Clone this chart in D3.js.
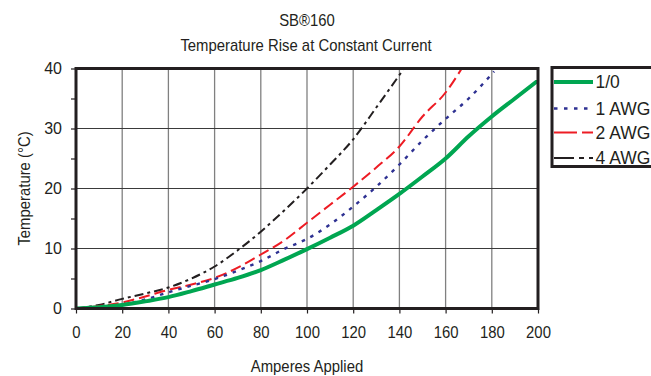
<!DOCTYPE html>
<html>
<head>
<meta charset="utf-8">
<script src="https://cdn.jsdelivr.net/npm/d3@7/dist/d3.min.js"></script>
<style>
  html, body { margin: 0; padding: 0; background: #fff; }
  svg { display: block; font-family: "Liberation Sans", Arial, sans-serif; }
</style>
</head>
<body>
<svg id="chart" width="651" height="376"></svg>
<script>
// ---- data ----
const titleLines = ["SB\u00AE160", "Temperature Rise at Constant Current"];
const xLabel = "Amperes Applied";
const yLabel = "Temperature (\u00B0C)";
const xTicks = [0, 20, 40, 60, 80, 100, 120, 140, 160, 180, 200];
const yTicks = [0, 10, 20, 30, 40];
const yMinorTicks = [5, 15, 25, 35];
const seriesNames = ["1/0", "1 AWG", "2 AWG", "4 AWG"];

const ampsG = [0,10,20,30,40,50,60,70,80,90,100,110,120,130,140,150,160,170,180,190,200];
const tempG = [0,0.2,0.6,1.2,1.9,2.9,4.0,5.1,6.4,8.1,9.9,11.8,13.8,16.4,19.1,22.0,25.0,28.7,32.0,35.0,38.0];

const ampsB = [0,10,20,30,40,50,60,70,80,90,100,110,120,130,140,150,160,170,181];
const tempB = [0,0.2,0.6,1.5,2.7,3.8,4.9,6.3,7.9,9.9,11.6,14.0,17.0,20.3,24.0,28.0,31.6,35.0,39.5];

const ampsR = [0,10,20,30,40,50,60,70,80,90,100,110,120,130,140,150,160,167];
const tempR = [0,0.4,1.0,2.0,3.1,4.0,5.1,6.8,9.0,11.3,14.3,17.3,20.3,23.5,27.0,32.0,36.0,40.0];

const ampsK = [0,10,20,30,40,50,60,70,80,90,100,110,120,130,142];
const tempK = [0,0.6,1.6,2.5,3.5,5.0,7.0,9.7,12.8,16.3,20.0,24.0,28.2,33.5,40.0];

// ---- styles ----
const styles = [
  { color: "#00a651", width: 4, dash: null, legendDash: null },
  { color: "#2e3192", width: 2.4, dash: "3.5,6", legendDash: "3.5,6.5" },
  { color: "#ed1c24", width: 2, dash: "11,5", legendDash: "23,5" },
  { color: "#231f20", width: 2, dash: "9,4,3,4", legendDash: "20,5,5,5,5,5" }
];
const ink = "#231f20";
const fs = 16, sx = 0.93;

const series = [
  { name: seriesNames[0], xs: ampsG, ys: tempG },
  { name: seriesNames[1], xs: ampsB, ys: tempB },
  { name: seriesNames[2], xs: ampsR, ys: tempR },
  { name: seriesNames[3], xs: ampsK, ys: tempK }
];

const svg = d3.select("#chart");
const pL = 76, pR = 538, pT = 68.5, pB = 308.5;

const x = d3.scaleLinear().domain([0, 200]).range([pL, pR]);
const y = d3.scaleLinear().domain([0, 40]).range([pB, pT]);

function label(tx, ty, txt, rot) {
  const g = svg.append("g").attr("transform", `translate(${tx},${ty})` + (rot ? ` rotate(${rot})` : ""));
  g.append("text").attr("transform", `scale(${sx},1)`).attr("text-anchor", "middle")
    .attr("font-size", fs).attr("fill", ink).text(txt);
}

// titles
label(307, 25.5, titleLines[0]);
label(306, 50.5, titleLines[1]);

// grid
const grid = svg.append("g");
grid.selectAll("line.v").data(xTicks.slice(1, -1)).enter().append("line")
  .attr("x1", d => x(d)).attr("x2", d => x(d)).attr("y1", pT).attr("y2", pB)
  .attr("stroke", "#808080").attr("stroke-width", 1.3);
grid.selectAll("line.h").data(yTicks.slice(1, -1)).enter().append("line")
  .attr("x1", pL).attr("x2", pR).attr("y1", d => y(d)).attr("y2", d => y(d))
  .attr("stroke", "#3a3a3a").attr("stroke-width", 1.2);

// axes
const xAxis = d3.axisBottom(x).tickValues(xTicks).tickSize(5).tickPadding(13).tickFormat(d3.format("d"));
const gx = svg.append("g").attr("transform", `translate(0,${pB})`).call(xAxis);
gx.select(".domain").remove();
gx.selectAll("line").attr("stroke", ink).attr("stroke-width", 1.2);
gx.selectAll("text").attr("font-size", fs).attr("fill", ink)
  .attr("font-family", "Liberation Sans, Arial, sans-serif")
  .attr("transform", `scale(${sx},1)`);

const yAxis = d3.axisLeft(y).tickValues(yTicks).tickSize(5).tickPadding(9).tickFormat(d3.format("d"));
const gy = svg.append("g").attr("transform", `translate(${pL},0)`).call(yAxis);
gy.select(".domain").remove();
gy.selectAll("line").attr("stroke", ink).attr("stroke-width", 1.2);
gy.selectAll("text").attr("font-size", fs).attr("fill", ink)
  .attr("font-family", "Liberation Sans, Arial, sans-serif");

const yMinor = d3.axisLeft(y).tickValues(yMinorTicks).tickSize(5).tickFormat("");
const gym = svg.append("g").attr("transform", `translate(${pL},0)`).call(yMinor);
gym.select(".domain").remove();
gym.selectAll("line").attr("stroke", ink).attr("stroke-width", 1.2);

// clip
svg.append("clipPath").attr("id", "plotclip").append("rect")
  .attr("x", pL).attr("y", pT).attr("width", pR - pL).attr("height", pB - pT);

const line = d3.line().curve(d3.curveMonotoneX).x(d => x(d[0])).y(d => y(d[1]));
const linesG = svg.append("g").attr("clip-path", "url(#plotclip)");
series.slice().reverse().forEach((s, ri) => {
  const i = series.length - 1 - ri;
  const pts = s.xs.map((v, k) => [v, s.ys[k]]);
  linesG.append("path").datum(pts).attr("d", line)
    .attr("fill", "none").attr("stroke", styles[i].color)
    .attr("stroke-width", styles[i].width)
    .attr("stroke-dasharray", styles[i].dash)
    .attr("stroke-linejoin", "round");
});

// frame
svg.append("rect").attr("x", pL).attr("y", pT).attr("width", pR - pL).attr("height", pB - pT)
  .attr("fill", "none").attr("stroke", ink).attr("stroke-width", 3);

// axis labels
label(307, 371.5, xLabel);
label(29.5, (pT + pB) / 2, yLabel, -90);

// legend
const lg = svg.append("g");
lg.append("rect").attr("x", 552).attr("y", 67.5).attr("width", 110).attr("height", 99)
  .attr("fill", "#fff").attr("stroke", ink).attr("stroke-width", 3);
const rowY = [82, 108.5, 132.5, 158];
series.forEach((s, i) => {
  lg.append("line").attr("x1", 554).attr("x2", 593).attr("y1", rowY[i]).attr("y2", rowY[i])
    .attr("stroke", styles[i].color).attr("stroke-width", styles[i].width)
    .attr("stroke-dasharray", styles[i].legendDash);
  lg.append("text").attr("x", 595.5).attr("y", rowY[i] + 6.3).attr("font-size", 17.5)
    .attr("fill", ink).text(s.name);
});
</script>
</body>
</html>
